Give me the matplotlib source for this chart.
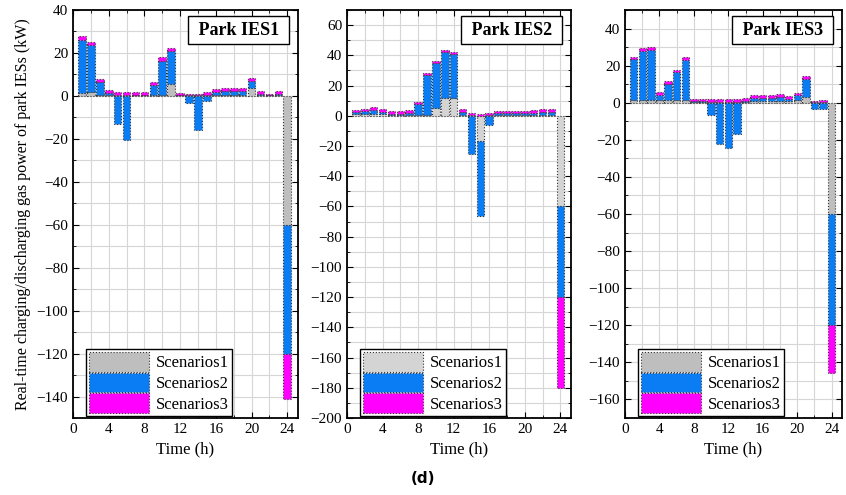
import numpy as np
import matplotlib
matplotlib.use('Agg')
import matplotlib.pyplot as plt
from matplotlib.ticker import MultipleLocator

plt.rcParams['font.family'] = ['Liberation Serif', 'DejaVu Serif']

hours = np.arange(1, 25)

# Park IES1
ies1_s1 = [1.5, 2.0, 0.5, 0.3, 0.3, 0.3, 0.3, 0.3, 0.5, 0.5, 5.5, 0.2,
           0.3, 0.3, 0.2, 0.6, 0.6, 0.6, 0.6, 3.5, 0.5, 0.2, 0.5, -60]
ies1_s2 = [24.5, 21.7, 6.0, 1.0, -13.2, -20.6, 0.2, 0.2, 4.7, 15.9, 15.3, 0.2,
           -3.4, -16.0, -2.2, 1.0, 1.5, 1.5, 1.5, 3.5, 0.5, 0.1, 0.3, -60]
ies1_s3 = [1.8, 1.5, 1.5, 1.5, 1.5, 1.5, 1.5, 1.5, 1.5, 1.5, 1.5, 0.8,
           0.8, 0.8, 1.5, 1.5, 1.5, 1.5, 1.5, 1.5, 1.5, 0.6, 1.5, -21]

# Park IES2
ies2_s1 = [1.0, 1.0, 1.0, 1.0, 0.5, 0.5, 0.5, 0.5, 0.5, 5.3, 12.0, 12.0,
           0.5, 0.2, -17.0, 0.2, 0.5, 0.5, 0.5, 0.5, 0.5, 0.5, 0.5, -60]
ies2_s2 = [1.5, 2.3, 3.0, 1.7, 0.9, 0.9, 1.5, 7.0, 26.6, 29.5, 30.0, 29.0,
           2.2, -25.3, -49.4, -5.9, 1.1, 1.1, 1.1, 1.3, 1.5, 2.2, 2.2, -60]
ies2_s3 = [1.5, 1.5, 1.5, 1.5, 1.5, 1.5, 1.5, 1.5, 1.5, 1.5, 1.5, 1.4,
           1.5, 1.5, 1.5, 1.5, 1.5, 1.5, 1.5, 1.5, 1.5, 1.5, 1.5, -60]

# Park IES3
ies3_s1 = [1.5, 1.5, 1.5, 1.3, 1.3, 1.3, 1.3, 0.5, 0.5, 0.5, 0.5, 0.5,
           0.5, 0.5, 1.0, 1.0, 1.0, 1.0, 1.0, 1.5, 3.0, 0.2, 0.2, -60]
ies3_s2 = [21.9, 26.5, 27.0, 3.0, 9.0, 15.0, 21.6, 0.2, 0.2, -6.4, -22.4, -24.2,
           -16.9, 0.7, 1.7, 1.7, 1.7, 2.0, 1.0, 2.5, 10.0, -3.3, -3.3, -60]
ies3_s3 = [1.5, 1.5, 1.5, 1.5, 1.5, 1.5, 1.5, 1.5, 1.5, 1.5, 1.5, 1.5,
           1.5, 1.5, 1.5, 1.5, 1.5, 1.5, 1.5, 1.5, 1.5, 0.9, 1.4, -26]

panels = [
    ('Park IES1', [ies1_s1, ies1_s2, ies1_s3], (-150, 40), 20, '#bebebe'),
    ('Park IES2', [ies2_s1, ies2_s2, ies2_s3], (-200, 70), 20, '#d4d4d4'),
    ('Park IES3', [ies3_s1, ies3_s2, ies3_s3], (-170, 50), 20, '#bebebe'),
]
labels = ['Scenarios1', 'Scenarios2', 'Scenarios3']
blue = '#0a7df5'
magenta = '#ff00ff'

fig = plt.figure(figsize=(8.46, 4.95), dpi=100)
boxes = [(73, 298), (347, 571), (625, 842)]

for (title, series, ylim, ystep, gray), (x0, x1) in zip(panels, boxes):
    ax = fig.add_axes([x0 / 846, 1 - 418 / 495, (x1 - x0) / 846, 408 / 495])
    colors = [gray, blue, magenta]
    pos_bot = np.zeros(24)
    neg_bot = np.zeros(24)
    for vals, c, lab in zip(series, colors, labels):
        v = np.array(vals, dtype=float)
        bot = np.where(v >= 0, pos_bot, neg_bot)
        ax.bar(hours, v, width=0.86, bottom=bot, color=c, edgecolor='#333333',
               linestyle=':', linewidth=0.8, label=lab, zorder=3)
        pos_bot = pos_bot + np.where(v >= 0, v, 0)
        neg_bot = neg_bot + np.where(v < 0, v, 0)

    ax.set_xlim(0, 25.2)
    ax.set_ylim(*ylim)
    ax.xaxis.set_major_locator(MultipleLocator(4))
    ax.xaxis.set_minor_locator(MultipleLocator(2))
    ax.yaxis.set_major_locator(MultipleLocator(ystep))
    ax.yaxis.set_minor_locator(MultipleLocator(ystep / 2))
    ax.grid(True, which='both', color='#d6d6d6', linewidth=0.8, zorder=0)
    ax.set_axisbelow(True)
    ax.tick_params(which='both', direction='in', top=True, right=True, labelsize=11)
    ax.tick_params(which='major', length=4)
    ax.tick_params(which='minor', length=2)
    for sp in ax.spines.values():
        sp.set_linewidth(1.3)
    ax.set_xlabel('Time (h)', fontsize=12)
    # title box in the upper right corner
    ax.annotate(' ' + title + ' ', xy=(1, 1), xycoords='axes fraction',
                xytext=(-10.5, -8.4), textcoords='offset points',
                ha='right', va='top', fontsize=13, fontweight='bold',
                bbox=dict(boxstyle='square,pad=0.3', facecolor='white',
                          edgecolor='black', linewidth=1), zorder=5)
    leg = ax.legend(loc='lower left', bbox_to_anchor=(0.05, 0.0), fontsize=12,
                    fancybox=False, edgecolor='black', framealpha=1,
                    handlelength=3.6, handleheight=1.45, labelspacing=0.05,
                    borderpad=0.2, handletextpad=0.4, borderaxespad=0.1)
    leg.get_frame().set_linewidth(1.0)
    if x0 == 73:
        ax.set_ylabel('Real-time charging/discharging gas power of park IESs (kW)', fontsize=11.5)

fig.text(0.5, 0.034, '(d)', ha='center', va='center', fontsize=11,
         fontweight='bold', family='DejaVu Sans')

fig.savefig('out.png', dpi=100)
